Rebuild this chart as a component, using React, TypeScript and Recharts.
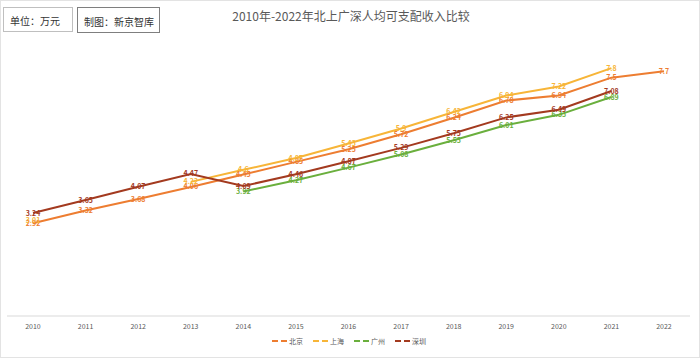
import { LineChart, Line, XAxis, YAxis, Legend, LabelList } from "recharts";

const years = ["2010", "2011", "2012", "2013", "2014", "2015", "2016", "2017", "2018", "2019", "2020", "2021", "2022"];
const beijing = [2.92, 3.32, 3.68, 4.06, 4.45, 4.85, 5.25, 5.72, 6.24, 6.78, 6.94, 7.5, 7.7];
const shanghai = [3.01, null, null, 4.22, 4.6, 4.97, 5.43, 5.9, 6.42, 6.94, 7.22, 7.8, null];
const guangzhou = [null, null, null, null, 3.92, 4.27, 4.67, 5.08, 5.53, 6.01, 6.33, 6.89, null];
const shenzhen = [3.24, 3.65, 4.07, 4.47, 4.09, 4.46, 4.87, 5.29, 5.75, 6.25, 6.49, 7.08, null];

const seriesNames = ["北京", "上海", "广州", "深圳"];
const seriesKeys = ["bj", "sh", "gz", "sz"];
const colors = ["#ED7D31", "#F7B538", "#6AAF3D", "#A33A1F"];

const data = years.map((year, i) => ({
  year,
  bj: beijing[i],
  sh: shanghai[i],
  gz: guangzhou[i],
  sz: shenzhen[i],
}));

const font = "'Noto Sans CJK SC', 'Noto Sans', sans-serif";

const makeLabel = (color: string) => (props: any) => {
  const { x, y, value } = props;
  if (value == null || x == null || y == null) return null;
  return (
    <text
      x={x}
      y={y + 2.5}
      textAnchor="middle"
      fontSize={7}
      fontWeight="bold"
      fill={color}
      fontFamily={font}
    >
      {value}
    </text>
  );
};

const renderLegend = () => (
  <div style={{ display: "flex", justifyContent: "center", gap: 9, fontSize: 7, color: "#595959", fontFamily: font }}>
    {seriesNames.map((name, i) => (
      <div key={name} style={{ display: "flex", alignItems: "center" }}>
        <svg width={18} height={6}>
          <line x1={1} y1={3} x2={7} y2={3} stroke={colors[i]} strokeWidth={2} />
          <line x1={10} y1={3} x2={16} y2={3} stroke={colors[i]} strokeWidth={2} />
        </svg>
        <span>{name}</span>
      </div>
    ))}
  </div>
);

export default function App() {
  return (
    <div
      style={{
        position: "absolute",
        left: 0,
        top: 0,
        width: 700,
        height: 358,
        background: "#fff",
        boxSizing: "border-box",
        border: "1px solid #e3e3e3",
        fontFamily: font,
      }}
    >
      <div
        style={{
          position: "absolute",
          left: 2,
          top: 6,
          width: 70,
          height: 25,
          boxSizing: "border-box",
          border: "1px solid #bfbfbf",
          fontSize: 10,
          color: "#333",
          padding: "5px 0 0 6px",
        }}
      >
        单位：万元
      </div>
      <div
        style={{
          position: "absolute",
          left: 76,
          top: 6,
          width: 83,
          height: 26,
          boxSizing: "border-box",
          border: "1px solid #7f7f7f",
          fontSize: 10,
          color: "#333",
          padding: "6px 0 0 6px",
        }}
      >
        制图：新京智库
      </div>
      <div
        style={{
          position: "absolute",
          left: 0,
          width: 700,
          top: 6,
          textAlign: "center",
          fontSize: 12,
          color: "#595959",
        }}
      >
        2010年-2022年北上广深人均可支配收入比较
      </div>
      <LineChart width={700} height={358} data={data} margin={{ top: 29, right: 11, left: 6, bottom: 0 }}>
        <XAxis
          dataKey="year"
          height={20}
          padding={{ left: 26, right: 26 }}
          tickLine={false}
          axisLine={{ stroke: "#d9d9d9" }}
          tick={{ fontSize: 7, fill: "#595959", fontFamily: font }}
          interval={0}
        />
        <YAxis hide domain={[0, 9]} />
        <Legend verticalAlign="bottom" height={23} content={renderLegend} />
        {seriesKeys.map((key, i) => (
          <Line
            key={key}
            dataKey={key}
            name={seriesNames[i]}
            stroke={colors[i]}
            strokeWidth={2}
            dot={false}
            activeDot={false}
            isAnimationActive={false}
          >
            <LabelList dataKey={key} content={makeLabel(colors[i])} />
          </Line>
        ))}
      </LineChart>
    </div>
  );
}
